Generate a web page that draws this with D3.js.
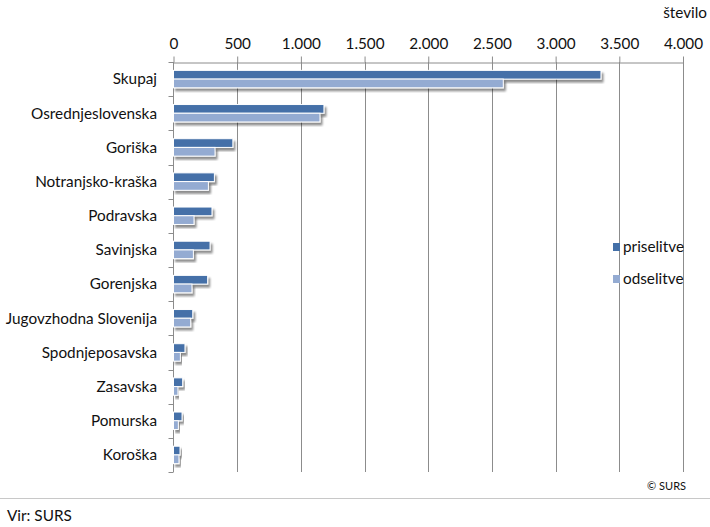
<!DOCTYPE html>
<html>
<head>
<meta charset="utf-8">
<script src="https://cdn.jsdelivr.net/npm/d3@7.9.0/dist/d3.min.js"></script>
<style>
  body { margin: 0; background: #fff; }
  svg text { font-family: Lato, "Open Sans", sans-serif; fill: #111; }
</style>
</head>
<body>
<svg width="710" height="527"></svg>
<script>
// regions, sorted by arrivals
const regions = ['Skupaj', 'Osrednjeslovenska', 'Goriška', 'Notranjsko-kraška', 'Podravska',
  'Savinjska', 'Gorenjska', 'Jugovzhodna Slovenija', 'Spodnjeposavska', 'Zasavska', 'Pomurska', 'Koroška'];
const priselitve = [3356, 1181, 466, 321, 302, 287, 268, 151, 90, 72, 67, 51];
const odselitve = [2589, 1150, 326, 274, 161, 156, 145, 135, 54, 35, 38, 43];
const seriesNames = ['priselitve', 'odselitve'];
const seriesColors = ['#4470a8', '#94abd2'];
const xTicks = [0, 500, 1000, 1500, 2000, 2500, 3000, 3500, 4000];

const svg = d3.select('svg');
const plotLeft = 173.5, plotRight = 683, plotTop = 62, plotBottom = 472;
const fs = 15.3;

const x = d3.scaleLinear().domain([0, 4000]).range([plotLeft, plotRight]);
const y = d3.scaleBand().domain(regions).range([plotTop, plotBottom]).paddingInner(0.49).paddingOuter(0.245);
const sub = d3.scaleBand().domain(seriesNames).range([0, y.bandwidth()]);
const fmt = d => d3.format(',')(d).replace(/,/g, '.');

// drop shadow for bars
const defs = svg.append('defs');
const f = defs.append('filter').attr('id', 'shadow').attr('x', '-10%').attr('y', '-30%').attr('width', '130%').attr('height', '180%');
f.append('feGaussianBlur').attr('in', 'SourceAlpha').attr('stdDeviation', 1.3);
f.append('feOffset').attr('dx', 2).attr('dy', 2.5).attr('result', 'off');
f.append('feComponentTransfer').append('feFuncA').attr('type', 'linear').attr('slope', 0.45);
const m = f.append('feMerge');
m.append('feMergeNode');
m.append('feMergeNode').attr('in', 'SourceGraphic');

// grid lines
svg.append('g').selectAll('line').data(xTicks.slice(1)).join('line')
  .attr('x1', d => Math.round(x(d)) + 0.5).attr('x2', d => Math.round(x(d)) + 0.5)
  .attr('y1', plotTop).attr('y2', plotBottom)
  .attr('stroke', '#8c8c8c');

// top axis
const xAxis = svg.append('g').attr('transform', `translate(0,${plotTop + 0.5})`)
  .call(d3.axisTop(x).tickValues(xTicks).tickFormat(fmt).tickSizeInner(6).tickSizeOuter(0).tickPadding(8));
xAxis.select('.domain').attr('stroke', '#8c8c8c');
xAxis.selectAll('.tick line').attr('stroke', '#8c8c8c');
xAxis.selectAll('.tick text').attr('font-size', fs).attr('font-family', 'Lato, sans-serif').attr('fill', '#111');

// left axis with ticks at category boundaries
const bounds = d3.range(regions.length + 1).map(i => plotTop + i * (plotBottom - plotTop) / regions.length);
svg.append('line').attr('x1', plotLeft).attr('x2', plotLeft).attr('y1', plotTop).attr('y2', plotBottom).attr('stroke', '#8c8c8c');
svg.append('g').selectAll('line').data(bounds).join('line')
  .attr('x1', plotLeft - 5).attr('x2', plotLeft)
  .attr('y1', d => Math.round(d) + 0.5).attr('y2', d => Math.round(d) + 0.5)
  .attr('stroke', '#8c8c8c');

// bars
const groups = svg.append('g').selectAll('g').data(regions).join('g')
  .attr('transform', d => `translate(0,${y(d)})`);
groups.selectAll('rect')
  .data((d, i) => [
    { s: seriesNames[0], v: priselitve[i], c: seriesColors[0] },
    { s: seriesNames[1], v: odselitve[i], c: seriesColors[1] }
  ])
  .join('rect')
  .attr('x', x(0))
  .attr('y', d => sub(d.s))
  .attr('width', d => x(d.v) - x(0))
  .attr('height', sub.bandwidth())
  .attr('fill', d => d.c)
  .attr('stroke', '#fff')
  .attr('stroke-width', 1)
  .attr('filter', 'url(#shadow)');

// category labels
svg.append('g').selectAll('text').data(regions).join('text')
  .attr('x', 157).attr('y', d => y(d) + y.bandwidth() / 2)
  .attr('dy', '0.35em').attr('text-anchor', 'end').attr('font-size', fs)
  .text(d => d);

// legend
const leg = svg.append('g').selectAll('g').data(seriesNames).join('g')
  .attr('transform', (d, i) => `translate(613,${247 + i * 32})`);
leg.append('rect').attr('x', 0).attr('y', -4).attr('width', 7).attr('height', 8)
  .attr('fill', (d, i) => seriesColors[i]);
leg.append('text').attr('x', 10).attr('dy', '0.35em').attr('font-size', fs).text(d => d);

// titles and notes
svg.append('text').attr('x', 707).attr('y', 18).attr('text-anchor', 'end').attr('font-size', fs).text('število');
svg.append('text').attr('x', 686).attr('y', 490).attr('text-anchor', 'end').attr('font-size', 11).text('© SURS');
svg.append('line').attr('x1', 0).attr('x2', 710).attr('y1', 498.5).attr('y2', 498.5).attr('stroke', '#c8c8c8');
svg.append('text').attr('x', 7).attr('y', 521).attr('font-size', fs).text('Vir: SURS');
</script>
</body>
</html>
